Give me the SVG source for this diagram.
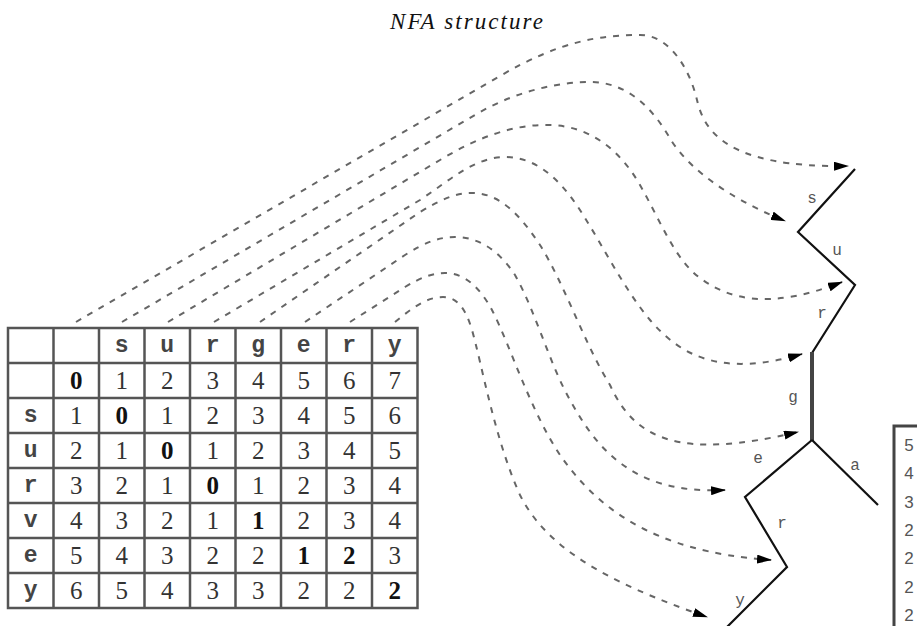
<svg xmlns="http://www.w3.org/2000/svg" width="917" height="626" viewBox="0 0 917 626">
  <defs>
    <marker id="arrow" markerWidth="15" markerHeight="9" refX="14" refY="4.5" orient="auto" markerUnits="userSpaceOnUse">
      <path d="M0,0 L15,4.5 L0,9 z" fill="#000" stroke="none"/>
    </marker>
    <style>
      .title { font-family: "Liberation Serif", "Times New Roman", serif; font-style: italic; font-size: 23px; fill: #111; }
      .grid { stroke: #555; stroke-width: 2.5; fill: none; }
      .tt { font-family: "Liberation Mono", "Courier New", monospace; font-size: 23px; font-weight: bold; fill: #444; text-anchor: middle; }
      .num { font-family: "Liberation Serif", "Times New Roman", serif; font-size: 25px; fill: #333; text-anchor: middle; }
      .b { font-weight: bold; fill: #111; }
      .flow { fill: none; stroke: #666; stroke-width: 2; stroke-dasharray: 6 7; marker-end: url(#arrow); }
      .edge { fill: none; stroke: #111; stroke-width: 2.2; stroke-linejoin: miter; }
      .edge-g { fill: none; stroke: #444; stroke-width: 4; }
      .lbl { font-family: "Liberation Mono", "Courier New", monospace; font-size: 16px; fill: #555; text-anchor: middle; }
      .side { font-family: "Liberation Sans", Arial, sans-serif; font-size: 17px; fill: #555; text-anchor: middle; }
    </style>
  </defs>

  <rect width="917" height="626" fill="#fff"/>

  <text class="title" x="390" y="29" textLength="153" lengthAdjust="spacing">NFA structure</text>

  <!-- edit-distance table for "surgery" against "survey" -->
  <g id="distance-table">
    <rect class="grid" x="8" y="328" width="409.5" height="280"/>
    <path class="grid" d="M53.5,328V608 M99,328V608 M144.5,328V608 M190,328V608 M235.5,328V608 M281,328V608 M326.5,328V608 M372,328V608
                          M8,363H417.5 M8,398H417.5 M8,433H417.5 M8,468H417.5 M8,503H417.5 M8,538H417.5 M8,573H417.5"/>
    <!-- header row and row labels -->
    <g class="tt">
      <text x="121.75" y="352">s</text>
      <text x="167.25" y="352">u</text>
      <text x="212.75" y="352">r</text>
      <text x="258.25" y="352">g</text>
      <text x="303.75" y="352">e</text>
      <text x="349.25" y="352">r</text>
      <text x="394.75" y="352">y</text>
      <text x="30.75" y="422">s</text>
      <text x="30.75" y="457">u</text>
      <text x="30.75" y="492">r</text>
      <text x="30.75" y="527">v</text>
      <text x="30.75" y="562">e</text>
      <text x="30.75" y="597">y</text>
    </g>
    <g class="num">
      <text x="76.25" y="389" class="b">0</text><text x="121.75" y="389">1</text><text x="167.25" y="389">2</text><text x="212.75" y="389">3</text><text x="258.25" y="389">4</text><text x="303.75" y="389">5</text><text x="349.25" y="389">6</text><text x="394.75" y="389">7</text>
      <text x="76.25" y="424">1</text><text x="121.75" y="424" class="b">0</text><text x="167.25" y="424">1</text><text x="212.75" y="424">2</text><text x="258.25" y="424">3</text><text x="303.75" y="424">4</text><text x="349.25" y="424">5</text><text x="394.75" y="424">6</text>
      <text x="76.25" y="459">2</text><text x="121.75" y="459">1</text><text x="167.25" y="459" class="b">0</text><text x="212.75" y="459">1</text><text x="258.25" y="459">2</text><text x="303.75" y="459">3</text><text x="349.25" y="459">4</text><text x="394.75" y="459">5</text>
      <text x="76.25" y="494">3</text><text x="121.75" y="494">2</text><text x="167.25" y="494">1</text><text x="212.75" y="494" class="b">0</text><text x="258.25" y="494">1</text><text x="303.75" y="494">2</text><text x="349.25" y="494">3</text><text x="394.75" y="494">4</text>
      <text x="76.25" y="529">4</text><text x="121.75" y="529">3</text><text x="167.25" y="529">2</text><text x="212.75" y="529">1</text><text x="258.25" y="529" class="b">1</text><text x="303.75" y="529">2</text><text x="349.25" y="529">3</text><text x="394.75" y="529">4</text>
      <text x="76.25" y="564">5</text><text x="121.75" y="564">4</text><text x="167.25" y="564">3</text><text x="212.75" y="564">2</text><text x="258.25" y="564">2</text><text x="303.75" y="564" class="b">1</text><text x="349.25" y="564" class="b">2</text><text x="394.75" y="564">3</text>
      <text x="76.25" y="599">6</text><text x="121.75" y="599">5</text><text x="167.25" y="599">4</text><text x="212.75" y="599">3</text><text x="258.25" y="599">3</text><text x="303.75" y="599">2</text><text x="349.25" y="599">2</text><text x="394.75" y="599" class="b">2</text>
    </g>
  </g>

  <!-- automaton path s-u-r-g-e-r-y with the a branch -->
  <g id="nfa">
    <polyline class="edge" points="855,169 798,232 855,285 812,353"/>
    <line class="edge-g" x1="812" y1="352" x2="812" y2="441"/>
    <line class="edge" x1="812" y1="440" x2="878" y2="505"/>
    <polyline class="edge" points="812,440 745,497 787,567 724,630"/>
    <g class="lbl">
      <text x="812" y="203">s</text>
      <text x="837" y="255">u</text>
      <text x="822" y="318">r</text>
      <text x="793" y="402">g</text>
      <text x="758" y="463">e</text>
      <text x="855" y="470">a</text>
      <text x="782" y="528">r</text>
      <text x="740" y="605">y</text>
    </g>
  </g>

  <!-- neighbouring column -->
  <g id="side-table">
    <path d="M894,626V426H917" fill="none" stroke="#444" stroke-width="3"/>
    <g class="side">
      <text x="909" y="451">5</text>
      <text x="909" y="479">4</text>
      <text x="909" y="508">3</text>
      <text x="909" y="536">2</text>
      <text x="909" y="564">2</text>
      <text x="909" y="593">2</text>
      <text x="909" y="621">2</text>
    </g>
  </g>

  <!-- column-to-state mappings -->
  <g id="connectors">
    <path class="flow" d="M76,322 L500,76 C560,41 600,35 640,35 C670,35 690,70 697,100 C704,130 725,168 848,166"/>
    <path class="flow" d="M122,322 L480,112 C520,90 560,82 590,82 C625,82 650,105 668,135 C690,175 745,205 785,221"/>
    <path class="flow" d="M168,322 L440,160 C480,136 515,124 550,125 C590,126 620,150 640,185 C660,220 675,260 700,278 C730,300 770,310 842,282"/>
    <path class="flow" d="M214,322 L420,200 C450,180 475,157 505,157 C540,157 565,185 585,218 C605,250 625,290 650,320 C680,355 720,378 802,354"/>
    <path class="flow" d="M260,322 L420,212 C440,200 455,193 472,193 C500,193 520,215 540,245 C565,285 585,345 610,385 C635,440 680,460 798,432"/>
    <path class="flow" d="M305,322 L405,255 C425,242 440,237 455,237 C480,237 500,252 515,275 C535,310 550,365 570,400 C595,445 630,495 725,490"/>
    <path class="flow" d="M350,322 L405,287 C420,278 432,273 445,273 C465,273 480,288 492,310 C510,345 530,410 560,455 C595,505 650,552 771,560"/>
    <path class="flow" d="M395,322 C410,310 425,297 443,297 C458,297 466,310 472,330 C482,365 495,440 520,495 C545,545 600,580 707,617"/>
  </g>
</svg>
